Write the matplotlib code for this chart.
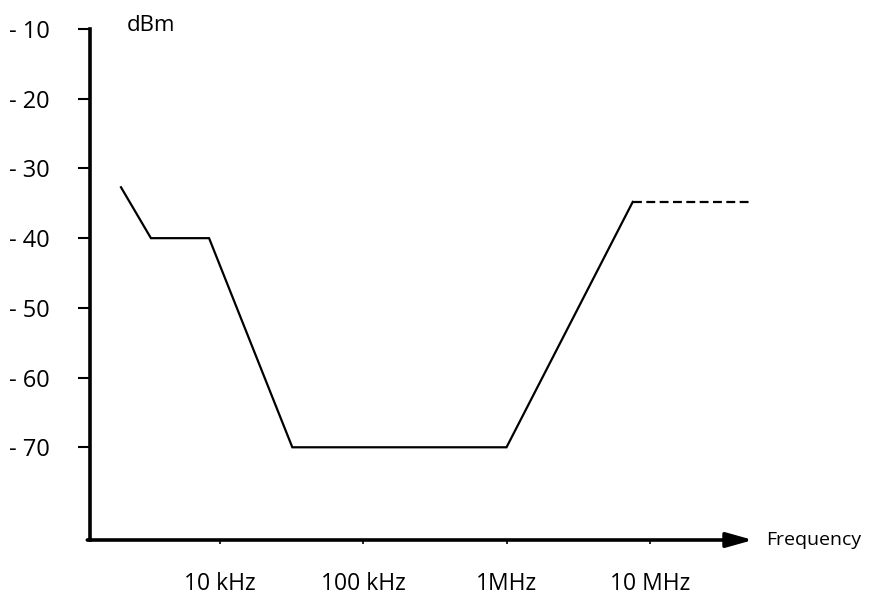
#!/usr/bin/env python
"""
Noise level vs frequency sketch (dBm over log frequency)
"""
import matplotlib
matplotlib.use("Agg")
import matplotlib.pyplot as plt

# corner points of the solid curve
freq_hz = [2.04e3, 3.3e3, 8.4e3, 32e3, 1e6, 7.6e6]
level_dbm = [-32.7, -40, -40, -70, -70, -34.8]

# dashed continuation
dash_freq_hz = [7.6e6, 50e6]
dash_level_dbm = [-34.8, -34.8]

y_ticks = [-10, -20, -30, -40, -50, -60, -70]
y_labels = ["- 10", "- 20", "- 30", "- 40", "- 50", "- 60", "- 70"]
x_ticks = [1e4, 1e5, 1e6, 1e7]
x_labels = ["10 kHz", "100 kHz", "1MHz", "10 MHz"]

plt.rcParams["font.family"] = ["Open Sans", "DejaVu Sans"]

fig = plt.figure(figsize=(8.7, 6.01), dpi=100)
ax = fig.add_axes([0.1034, 0.1015, 0.7621, 0.8502])

ax.plot(freq_hz, level_dbm, color="black", lw=1.6, solid_joinstyle="miter")
ax.plot(dash_freq_hz, dash_level_dbm, color="black", lw=1.6, linestyle=(0, (4, 2)))

ax.set_xscale("log")
ax.set_xlim(10 ** 3.093, 10 ** 7.72)
ax.set_ylim(-83.3, -10)

# axes: thick left spine, bottom drawn as arrow
for side in ["top", "right", "bottom"]:
    ax.spines[side].set_visible(False)
ax.spines["left"].set_linewidth(2.6)
ax.annotate("", xy=(1.0, 0), xytext=(-0.004, 0), xycoords="axes fraction",
            arrowprops=dict(arrowstyle="-|>,head_length=1.6,head_width=0.45",
                            color="black", lw=2.6, shrinkA=0, shrinkB=0),
            annotation_clip=False)

ax.set_yticks(y_ticks)
ax.set_yticklabels(y_labels, fontsize=17)
ax.tick_params(axis="y", direction="out", length=9, width=1.5, pad=20)

ax.set_xticks(x_ticks)
ax.set_xticklabels(x_labels, fontsize=16.5)
ax.minorticks_off()
ax.tick_params(axis="x", direction="out", length=3, width=1.2, pad=20)

ax.text(0.055, 0.996, "dBm", transform=ax.transAxes, fontsize=16,
        ha="left", va="baseline", clip_on=False)
ax.text(1.02, 0.0, "Frequency", transform=ax.transAxes, fontsize=14,
        ha="left", va="center", clip_on=False)

fig.savefig("out.png", dpi=100)
